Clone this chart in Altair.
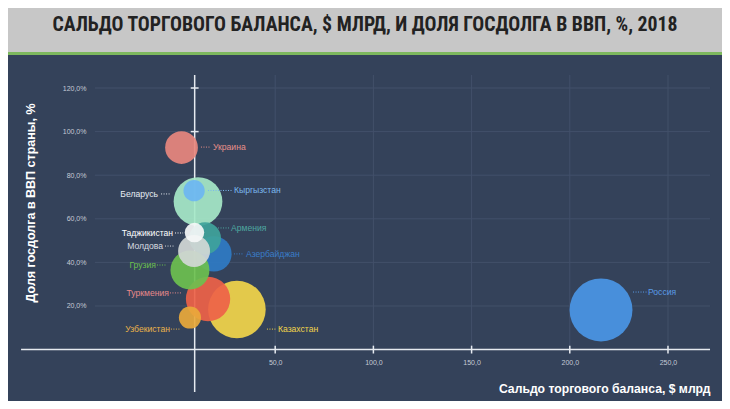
import math
import pandas as pd
import altair as alt

# ---- data ----
countries = ["Россия", "Казахстан", "Туркмения", "Узбекистан", "Украина", "Беларусь",
             "Кыргызстан", "Азербайджан", "Армения", "Грузия", "Молдова", "Таджикистан"]
trade_balance = [215.9, 30.5, 15.8, 6.6, 2.3, 10.7, 8.7, 18.8, 14.3, 6.6, 8.7, 8.9]   # $ bn
debt_share = [18.2, 18.4, 23.2, 14.7, 92.7, 67.9, 72.9, 43.9, 51.1, 36.5, 45.2, 53.7]  # % of GDP
bubble = [1260, 1056, 625, 156, 342, 756, 144, 400, 324, 484, 324, 121]               # bubble weight
bubble_colors = ["#4A96E6", "#F2D54A", "#EE6248", "#E9A93B", "#E8877E", "#A6E8C8",
                 "#6DB6F2", "#2F7BC4", "#3FA39B", "#6CC04F", "#D3D8D6", "#F5F7F7"]
label_colors = ["#5A9BE6", "#F2D54A", "#E8898A", "#EAB24A", "#E8908A", "#E6ECF2",
                "#7BB8EE", "#3A7DC8", "#4EA7A0", "#6CC04F", "#D8DCE0", "#FFFFFF"]
# label anchors (data units) and leader lines
label_x = [239.8, 51.4, -4.1, -3.6, 18.3, -9.7, 29.0, 35.1, 27.5, -10.7, -7.1, -2.0]
label_y = [26.4, 9.4, 26.0, 9.4, 92.9, 71.4, 73.0, 43.9, 55.8, 38.8, 47.5, 53.5]
label_side = ["left", "left", "right", "right", "left", "right", "left", "left", "left", "right", "right", "right"]
lead_x1 = [232.2, 45.8, -3.6, -3.1, 12.2, -8.1, 15.8, 29.0, 20.9, -10.2, -6.1, -1.0]
lead_x2 = [239.3, 50.4, 2.5, 1.5, 17.3, -3.6, 28.0, 34.1, 26.5, -5.1, -1.0, 3.1]

x_ticks = [50, 100, 150, 200, 250]
y_ticks = [20, 40, 60, 80, 100, 120]
y_axis_at = 9.0  # where the vertical axis line crosses the x scale

title_text = "САЛЬДО ТОРГОВОГО БАЛАНСА, $ МЛРД, И ДОЛЯ ГОСДОЛГА В ВВП, %, 2018"
x_title = "Сальдо торгового баланса, $ млрд"
y_title = "Доля госдолга в ВВП страны, %"

# ---- tables ----
df = pd.DataFrame({
    "country": countries, "x": trade_balance, "y": debt_share, "w": bubble,
    "ord": list(range(len(countries))),
})
lab = pd.DataFrame({
    "country": countries, "lx": label_x, "ly": label_y, "side": label_side,
    "l1": lead_x1, "l2": lead_x2, "col": label_colors,
})
lab_left = lab[lab.side == "left"]
lab_right = lab[lab.side == "right"]

W, H = 714, 393
BG = "#34425A"
XD = [-86.05, 277.5]
YD = [-23.58, 156.7]
xs = alt.Scale(domain=XD, nice=False, zero=False)
ys = alt.Scale(domain=YD, nice=False, zero=False)
one = pd.DataFrame({"a": [0]})
num_fmt = "replace(format(datum.value, '.1f'), '.', ',')"

x_axis = alt.Axis(
    values=x_ticks, labelExpr=num_fmt, labelFontSize=7, labelColor="#C5CBD6",
    labelFont="Liberation Sans", domain=False, ticks=False, grid=False,
    offset=-51.4, labelPadding=9, title=x_title, titleFontSize=12.2,
    titleFont="Liberation Sans", titleFontWeight="bold", titleColor="#FFFFFF",
    titleX=702, titleY=38.5, titleAlign="right", titleBaseline="middle", titleAngle=0)
y_axis = alt.Axis(
    values=y_ticks, labelExpr=num_fmt + " + '%'", labelFontSize=7, labelColor="#C5CBD6",
    labelFont="Liberation Sans", domain=False, ticks=False, grid=False,
    offset=-78, labelPadding=0, title=y_title, titleFontSize=12.5,
    titleFont="Liberation Sans", titleFontWeight="bold", titleColor="#FFFFFF",
    titleX=-56, titleY=194.5, titleAngle=270, titleAlign="center", titleBaseline="middle")

title_bar = alt.Chart(one).mark_rect(color="#C7C7C7").encode(
    x=alt.value(0), x2=alt.value(W), y=alt.value(0), y2=alt.value(44))
green_bar = alt.Chart(one).mark_rect(color="#7DB85E").encode(
    x=alt.value(0), x2=alt.value(W), y=alt.value(44), y2=alt.value(47))

hgrid = alt.Chart(pd.DataFrame({"v": y_ticks})).mark_rule(color="#42506A", strokeWidth=1).encode(
    x=alt.datum(-41.8, scale=xs, axis=x_axis), x2=alt.datum(271.4),
    y=alt.Y("v:Q", scale=ys, axis=y_axis))
vgrid = alt.Chart(pd.DataFrame({"v": x_ticks})).mark_rule(color="#42506A", strokeWidth=1).encode(
    x=alt.X("v:Q", scale=xs, axis=x_axis),
    y=alt.datum(0, scale=ys, axis=y_axis), y2=alt.datum(126))

x_line = alt.Chart(one).mark_rule(color="#E6EAF0", strokeWidth=1.5).encode(
    x=alt.datum(-79.4, scale=xs, axis=x_axis), x2=alt.datum(271.4),
    y=alt.datum(0, scale=ys, axis=y_axis))
y_line = alt.Chart(one).mark_rule(color="#E6EAF0", strokeWidth=1.5).encode(
    x=alt.datum(y_axis_at, scale=xs, axis=x_axis),
    y=alt.datum(126, scale=ys, axis=y_axis), y2=alt.datum(-19.4))
x_tick_marks = alt.Chart(pd.DataFrame({"v": x_ticks})).mark_rule(color="#E6EAF0", strokeWidth=1.5).encode(
    x=alt.X("v:Q", scale=xs, axis=x_axis),
    y=alt.datum(-1.8, scale=ys, axis=y_axis), y2=alt.datum(1.8))
y_tick_marks = alt.Chart(pd.DataFrame({"v": [100, 120]})).mark_rule(color="#E6EAF0", strokeWidth=1.5).encode(
    x=alt.datum(y_axis_at - 2.0, scale=xs, axis=x_axis), x2=alt.datum(y_axis_at + 2.0),
    y=alt.Y("v:Q", scale=ys, axis=y_axis))

bubbles = alt.Chart(df).mark_circle(opacity=0.92).encode(
    x=alt.X("x:Q", scale=xs, axis=x_axis),
    y=alt.Y("y:Q", scale=ys, axis=y_axis),
    size=alt.Size("w:Q", scale=alt.Scale(domain=[0, 1000], range=[0, 1000 * math.pi]), legend=None),
    color=alt.Color("country:N", scale=alt.Scale(domain=countries, range=bubble_colors), legend=None),
    order=alt.Order("ord:Q"),
)

leaders = alt.Chart(lab).mark_rule(strokeWidth=1, strokeDash=[1, 1.5]).encode(
    x=alt.X("l1:Q", scale=xs, axis=x_axis), x2="l2:Q",
    y=alt.Y("ly:Q", scale=ys, axis=y_axis),
    color=alt.Color("col:N", scale=None))

def label_layer(d, align):
    return alt.Chart(d).mark_text(align=align, baseline="middle", fontSize=8.6,
                                  font="Liberation Sans").encode(
        x=alt.X("lx:Q", scale=xs, axis=x_axis),
        y=alt.Y("ly:Q", scale=ys, axis=y_axis),
        text="country:N",
        color=alt.Color("col:N", scale=None))

chart = alt.layer(
    title_bar, green_bar, hgrid, vgrid, x_line, y_line, x_tick_marks, y_tick_marks,
    bubbles, leaders, label_layer(lab_left, "left"), label_layer(lab_right, "right"),
).properties(
    width=W, height=H, padding=0, autosize=alt.AutoSizeParams(type="none"),
    background=BG,
    title=alt.TitleParams(text=title_text, anchor="middle", orient="top", offset=-37,
                          baseline="middle", fontSize=19.8, fontWeight="bold",
                          font="Liberation Sans Narrow, Roboto Condensed, Liberation Sans",
                          color="#222222"),
).configure_view(stroke=None)

chart.save("out.html", embed_options={"renderer": "svg", "actions": False})
